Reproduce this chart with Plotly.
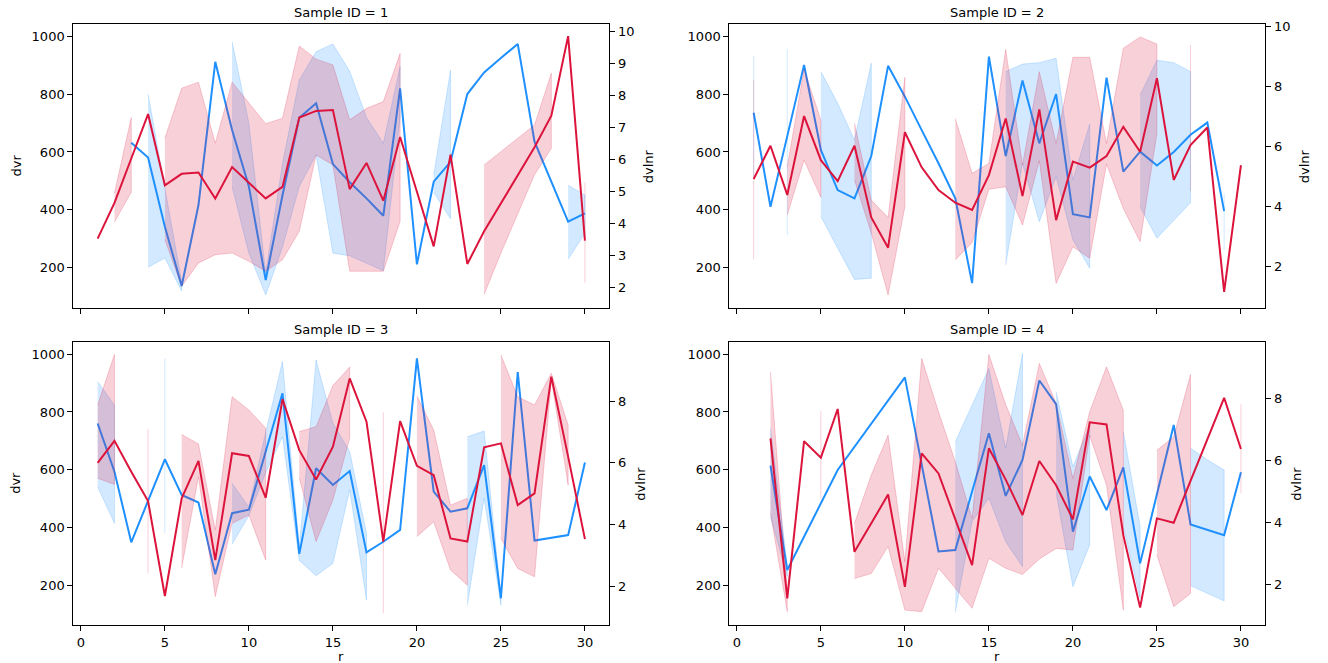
import plotly.graph_objects as go

N = None

# ---------------- data ----------------
panel_titles = ["Sample ID = 1", "Sample ID = 2", "Sample ID = 3", "Sample ID = 4"]
x_ticks = [0, 5, 10, 15, 20, 25, 30]
left_ticks = [200, 400, 600, 800, 1000]
right_ticks_p1 = [2, 3, 4, 5, 6, 7, 8, 9, 10]
right_ticks_p2 = [2, 4, 6, 8, 10]
right_ticks_p3 = [2, 4, 6, 8]
right_ticks_p4 = [2, 4, 6, 8]

# Panel 1 -- dvr (blue, left axis)
p1_blue_x = [3, 4, 5, 6, 7, 8, 9, 10, 11, 12, 13, 14, 15, 16, 17, 18, 19, 20, 21, 22, 23, 24, 25, 26, 27, 28, 29, 30]
p1_blue_mean = [632, 581, 341, 135, 416, 913, 676, 480, 156, 450, 719, 769, 558, 495, 439, 379, 821, 210, 497, 566, 801, 876, 926, 975, 636, 497, 358, 387]
p1_blue_lo = [N, 200, 232, 118, N, N, 480, 249, 104, 270, 480, 590, 249, 240, 215, 188, 720, N, 460, 368, N, N, N, N, N, N, 228, 318]
p1_blue_hi = [N, 801, 480, 150, N, N, 983, 700, 180, 560, 850, 948, 975, 880, 720, 630, 896, N, 520, 884, N, N, N, N, N, N, 485, 451]
# Panel 1 -- dvlnr (red, right axis)
p1_red_x = list(range(1, 31))
p1_red_mean = [3.52, 4.64, 6.03, 7.42, 5.19, 5.55, 5.59, 4.78, 5.76, 5.26, 4.78, 5.14, 7.31, 7.52, 7.55, 5.07, 5.89, 4.71, 6.70, 4.99, 3.28, 6.15, 2.73, 3.75, 4.62, 5.50, 6.38, 7.37, 9.86, 3.46]
p1_red_lo = [N, 4.04, 4.97, N, 3.49, 2.03, 2.76, 3.02, 3.07, 2.81, 2.50, 2.86, 3.75, 6.14, 5.83, 2.50, 2.50, 2.50, 4.06, N, N, N, N, 1.77, 3.07, 4.32, 5.52, 6.35, N, 2.14]
p1_red_hi = [N, 4.95, 7.31, N, 6.67, 8.23, 8.42, 6.51, 8.42, 7.76, 7.12, 7.29, 9.55, 9.14, 8.96, 7.24, 7.60, 7.81, 9.32, N, N, N, N, 5.83, 6.25, 6.66, 7.08, 8.70, N, 5.28]

# Panel 2
p2_blue_x = list(range(1, 30))
p2_blue_mean = [736, 410, 655, 902, 607, 468, 439, 586, 899, 792, 676, 561, 439, 145, 931, 586, 848, 630, 801, 384, 373, 858, 532, 601, 553, 600, 660, 702, 395]
p2_blue_lo = [505, N, 312, N, 376, 266, 158, 162, N, N, N, N, N, N, N, 208, 561, 358, 514, 295, 197, N, N, 410, 301, 364, 424, N, 260]
p2_blue_hi = [933, N, 956, N, 879, 769, 642, 908, N, N, N, N, N, N, N, 879, 905, 910, 925, 503, 697, N, N, 798, 918, 910, 879, N, 457]
p2_red_x = list(range(1, 31))
p2_red_mean = [4.90, 6.01, 4.37, 7.00, 5.53, 4.83, 6.01, 3.62, 2.61, 6.46, 5.29, 4.53, 4.11, 3.87, 5.03, 6.92, 4.33, 7.22, 3.53, 5.48, 5.28, 5.67, 6.64, 5.81, 8.26, 4.87, 6.03, 6.62, 1.14, 5.36]
p2_red_lo = [2.22, N, 3.70, 5.53, 4.29, N, 4.87, 3.10, 1.03, 3.98, N, N, 2.20, 2.78, 4.56, 4.64, 3.37, 5.51, 1.42, 2.64, 2.26, 5.40, 3.92, 2.81, 6.42, N, 4.50, N, N, N]
p2_red_hi = [8.20, N, 5.31, 8.56, 6.87, N, 6.76, 4.20, 3.62, 8.29, N, N, 6.92, 5.09, 5.42, 9.22, 5.37, 8.48, 6.09, 8.96, 8.96, 6.09, 9.26, 9.64, 9.40, N, 9.37, N, N, N]

# Panel 3
p3_blue_x = list(range(1, 31))
p3_blue_mean = [760, 593, 348, 492, 636, 512, 486, 237, 449, 461, 662, 865, 308, 605, 547, 595, 313, 350, 391, 986, 524, 454, 466, 616, 154, 938, 354, 364, 373, 625]
p3_blue_lo = [540, 414, N, N, 379, N, N, N, 341, 440, 590, 714, 285, 232, 275, 530, 148, N, N, N, N, N, 130, 501, 130, N, N, N, N, N]
p3_blue_hi = [905, 824, N, N, 986, N, N, N, 553, 470, 730, 975, 330, 980, 761, 663, 379, N, N, N, N, N, 714, 734, 160, N, N, N, N, N]
p3_red_x = list(range(1, 31))
p3_red_mean = [6.00, 6.71, 5.71, 4.76, 1.69, 4.85, 6.06, 2.85, 6.31, 6.22, 4.87, 8.06, 6.41, 5.46, 6.52, 8.73, 7.33, 3.45, 7.35, 5.90, 5.60, 3.55, 3.45, 6.50, 6.63, 4.63, 5.01, 8.79, 6.20, 3.53]
p3_red_lo = [5.50, 5.30, N, 2.42, N, 2.60, 5.55, 1.67, 4.04, 4.31, 2.85, N, 5.50, 3.45, 4.80, 6.80, N, 1.13, N, 3.61, 4.09, 2.53, 2.04, N, 3.55, 2.58, 2.31, 8.70, 5.28, N]
p3_red_hi = [7.87, 9.51, N, 7.09, N, 6.92, 6.61, 3.82, 8.14, 7.71, 7.12, N, 7.01, 7.17, 8.50, 9.10, N, 7.63, N, 8.16, 7.06, 4.63, 4.85, N, 9.49, 8.14, 7.87, 8.90, 7.22, N]

# Panel 4
p4_blue_x = [2, 3, 6, 10, 12, 13, 14, 15, 16, 17, 18, 19, 20, 21, 22, 23, 24, 25, 26, 27, 28, 29, 30]
p4_blue_mean = [614, 252, 599, 920, 316, 321, 524, 726, 509, 634, 909, 827, 385, 576, 460, 608, 275, 516, 755, 410, 391, 373, 591]
p4_blue_lo = [437, 229, N, N, N, 105, 420, 501, 350, 264, N, 520, 194, 339, N, 400, 154, N, N, 198, 171, 145, N]
p4_blue_hi = [743, 269, N, N, N, 697, 824, 951, 674, 1003, N, 870, 610, 755, N, 732, 403, N, N, 674, 634, 599, N]
p4_red_x = list(range(2, 31))
p4_red_mean = [6.71, 1.55, 6.62, 6.09, 7.66, 3.05, 3.97, 4.90, 1.92, 6.23, 5.58, 4.13, 2.62, 6.39, 5.38, 4.24, 5.98, 5.20, 4.10, 7.23, 7.16, 3.59, 1.25, 4.13, 3.99, 5.34, 6.68, 8.02, 6.37]
p4_red_lo = [4.30, 1.12, N, 4.77, N, 2.19, 2.35, 3.22, 1.17, 1.12, 2.52, 1.87, 1.23, 2.84, 2.52, 2.32, 2.82, 3.16, 3.11, 6.80, 5.20, 1.17, N, 2.95, 1.28, 1.71, N, N, 4.94]
p4_red_hi = [8.86, 1.76, N, 7.59, N, 3.97, 5.53, 6.82, 2.73, 9.29, 7.57, 5.96, 4.13, 9.42, 7.80, 6.49, 9.13, 7.84, 5.42, 7.57, 9.02, 7.62, N, 6.33, 6.76, 8.77, N, N, 7.81]

# ---------------- styling / layout ----------------
W, H = 1328, 663
BLUE = "#1E90FF"
RED = "#DC143C"
BLUE_BAND = "rgba(30,144,255,0.2)"
RED_BAND = "rgba(220,20,60,0.2)"
FONT = "DejaVu Sans"

col_px = [(73.3, 609.3), (729.3, 1265.3)]
row_px = [(24.3, 307.7), (341.7, 625.0)]
x_range = [-0.45, 31.45]
left_ranges = [[59.8, 1043.0], [59.8, 1043.0], [61.3, 1043.7], [61.3, 1043.7]]
right_ranges = [[1.36, 10.23], [0.61, 10.06], [0.75, 9.92], [0.69, 9.83]]
right_ticks = [right_ticks_p1, right_ticks_p2, right_ticks_p3, right_ticks_p4]

panels = [
    (p1_blue_x, p1_blue_mean, p1_blue_lo, p1_blue_hi, p1_red_x, p1_red_mean, p1_red_lo, p1_red_hi),
    (p2_blue_x, p2_blue_mean, p2_blue_lo, p2_blue_hi, p2_red_x, p2_red_mean, p2_red_lo, p2_red_hi),
    (p3_blue_x, p3_blue_mean, p3_blue_lo, p3_blue_hi, p3_red_x, p3_red_mean, p3_red_lo, p3_red_hi),
    (p4_blue_x, p4_blue_mean, p4_blue_lo, p4_blue_hi, p4_red_x, p4_red_mean, p4_red_lo, p4_red_hi),
]


def band_path(xs, lo, hi):
    px, py = [], []
    i, n = 0, len(xs)
    while i < n:
        if lo[i] is None:
            i += 1
            continue
        j = i
        while j + 1 < n and lo[j + 1] is not None:
            j += 1
        sx = list(xs[i:j + 1])
        px += sx + sx[::-1] + [None]
        py += list(hi[i:j + 1]) + list(lo[i:j + 1])[::-1] + [None]
        i = j + 1
    return px, py


def ax_name(kind, k):
    return f"{kind}axis" if k == 1 else f"{kind}axis{k}"


def ax_ref(kind, k):
    return kind if k == 1 else f"{kind}{k}"


fig = go.Figure()
layout = dict(
    width=W, height=H,
    margin=dict(l=0, r=0, t=0, b=0),
    paper_bgcolor="white", plot_bgcolor="white",
    showlegend=False,
    font=dict(family=FONT, size=13, color="black"),
)
annotations = []

common_axis = dict(
    showline=True, linecolor="black", linewidth=1,
    ticks="outside", ticklen=5, tickwidth=1, tickcolor="black",
    showgrid=False, zeroline=False,
    tickfont=dict(family=FONT, size=13, color="black"),
    automargin=False,
)

for i, (bx, bm, blo, bhi, rx, rm, rlo, rhi) in enumerate(panels):
    r, c = divmod(i, 2)
    xk = i + 1
    yl = 2 * i + 1
    yr = 2 * i + 2
    x0, x1 = col_px[c]
    y0, y1 = row_px[r]
    xdom = [x0 / W, x1 / W]
    ydom = [1 - y1 / H, 1 - y0 / H]

    layout[ax_name("x", xk)] = dict(
        common_axis, domain=xdom, range=x_range, anchor=ax_ref("y", yl),
        tickvals=x_ticks, showticklabels=(r == 1), mirror=True,
    )
    layout[ax_name("y", yl)] = dict(
        common_axis, domain=ydom, range=left_ranges[i], anchor=ax_ref("x", xk),
        tickvals=left_ticks, side="left",
    )
    layout[ax_name("y", yr)] = dict(
        common_axis, range=right_ranges[i], anchor=ax_ref("x", xk),
        overlaying=ax_ref("y", yl), side="right", tickvals=right_ticks[i],
    )

    xa, ya_l, ya_r = ax_ref("x", xk), ax_ref("y", yl), ax_ref("y", yr)

    # blue band + line (left axis)
    px, py = band_path(bx, blo, bhi)
    fig.add_trace(go.Scatter(x=px, y=py, mode="lines", fill="toself",
                             fillcolor=BLUE_BAND, line=dict(color=BLUE_BAND, width=1),
                             hoverinfo="skip", xaxis=xa, yaxis=ya_l))
    fig.add_trace(go.Scatter(x=bx, y=bm, mode="lines", line=dict(color=BLUE, width=2),
                             xaxis=xa, yaxis=ya_l, name="dvr"))
    # red band + line (right axis)
    px, py = band_path(rx, rlo, rhi)
    fig.add_trace(go.Scatter(x=px, y=py, mode="lines", fill="toself",
                             fillcolor=RED_BAND, line=dict(color=RED_BAND, width=1),
                             hoverinfo="skip", xaxis=xa, yaxis=ya_r))
    fig.add_trace(go.Scatter(x=rx, y=rm, mode="lines", line=dict(color=RED, width=2),
                             xaxis=xa, yaxis=ya_r, name="dvlnr"))

    cx = (x0 + x1) / 2 / W
    cy = 1 - (y0 + y1) / 2 / H
    # title
    annotations.append(dict(text=panel_titles[i], x=cx, y=1 - (y0 - 12) / H,
                            xref="paper", yref="paper", showarrow=False,
                            xanchor="center", yanchor="middle",
                            font=dict(family=FONT, size=13, color="black")))
    # left label only on left column
    if c == 0:
        annotations.append(dict(text="dvr", x=15.5 / W, y=cy, xref="paper", yref="paper",
                                showarrow=False, textangle=-90, xanchor="center", yanchor="middle",
                                font=dict(family=FONT, size=13, color="black")))
    # right label
    wide = max(right_ticks[i]) >= 10
    rx_px = x1 + (39 if wide else 31)
    annotations.append(dict(text="dvlnr", x=rx_px / W, y=cy, xref="paper", yref="paper",
                            showarrow=False, textangle=-90, xanchor="center", yanchor="middle",
                            font=dict(family=FONT, size=13, color="black")))
    # x label on bottom row (glyph kept inside the figure, below the tick labels)
    if r == 1:
        annotations.append(dict(text="r", x=cx, y=-2.5 / H, xref="paper", yref="paper",
                                showarrow=False, xanchor="center", yanchor="bottom",
                                font=dict(family=FONT, size=13, color="black")))

layout["annotations"] = annotations
fig.update_layout(**layout)
fig.write_html("out.html")
